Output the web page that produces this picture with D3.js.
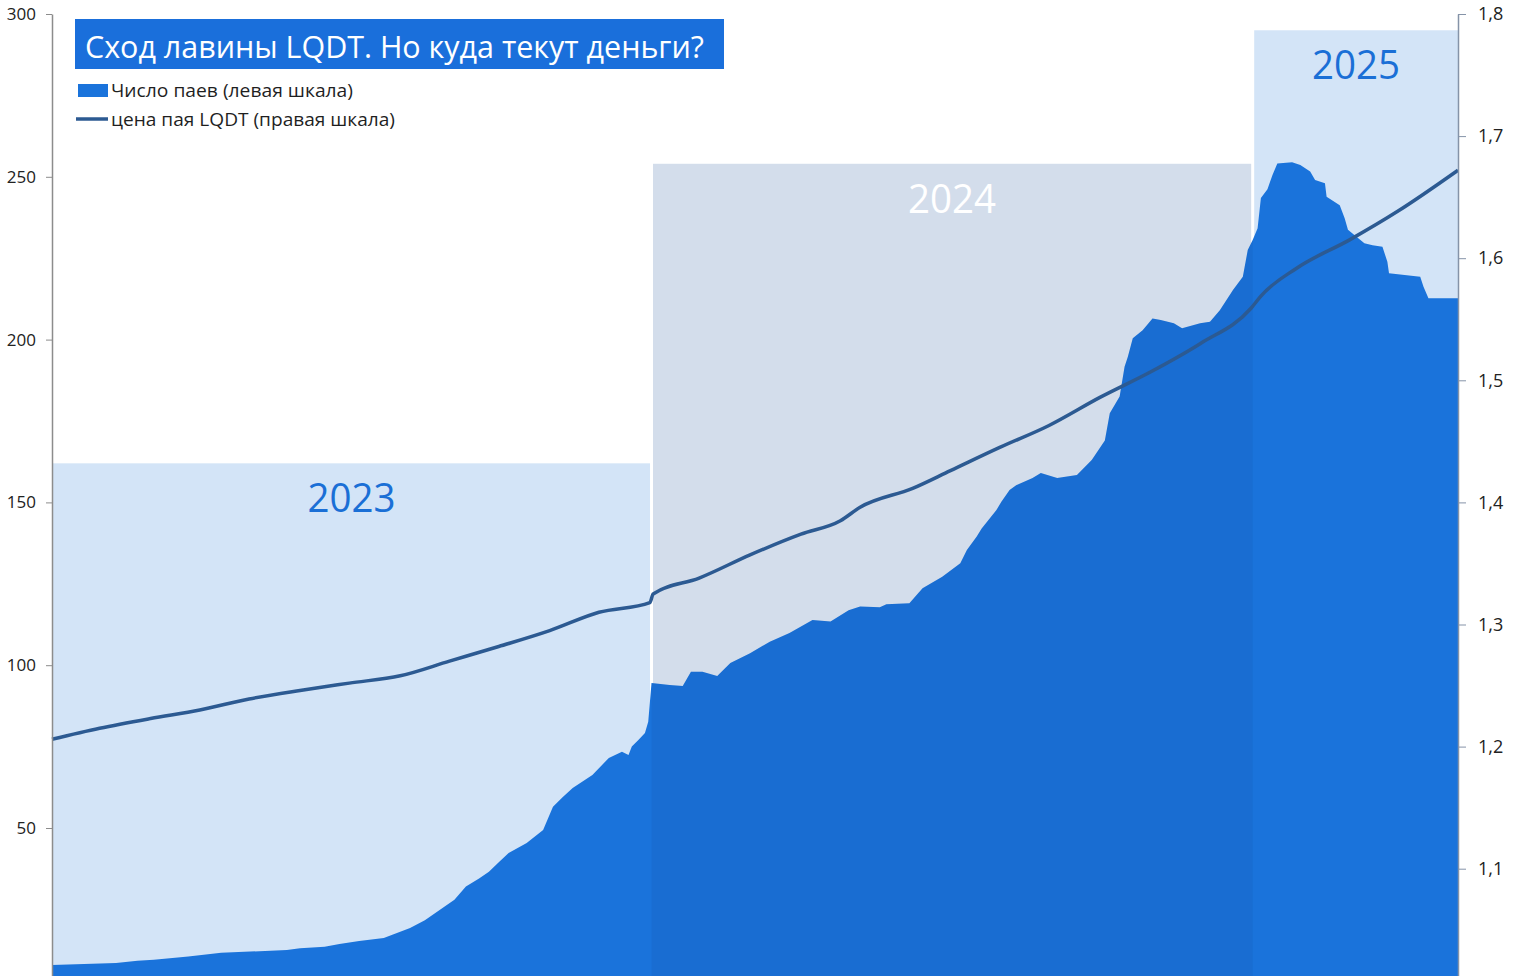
<!DOCTYPE html>
<head>
  <meta charset="utf-8">
  <script src="https://d3js.org/d3.v7.min.js"></script>
  <style>
    body {
      margin: 0;
      background: #fff;
    }
    svg {
      display: block;
      font-family: "Open Sans", sans-serif;
    }
    .axis path,
    .axis line {
      fill: none;
    }
  </style>
</head>

<body>
<script>

// year columns in the background (left scale)
var years = ["2023", "2024", "2025"];
var yearStarts = ["2023-01-01", "2024-01-01", "2025-01-01"];
var yearBandTops = [162, 254, 295];
var endDate = "2025-05-06";

// number of units, left scale
var unitDates = [
  "2023-01-01","2023-02-09","2023-02-22","2023-03-04","2023-03-25","2023-04-14","2023-05-24","2023-06-01",
  "2023-06-16","2023-06-25","2023-07-07","2023-07-22","2023-07-28","2023-08-07","2023-08-16","2023-08-25",
  "2023-09-03","2023-09-10","2023-09-18","2023-09-24","2023-09-30","2023-10-06","2023-10-17","2023-10-27",
  "2023-11-02","2023-11-08","2023-11-14","2023-11-26","2023-12-06","2023-12-14","2023-12-18","2023-12-20",
  "2023-12-24","2023-12-28","2023-12-30",
  "2024-01-01","2024-01-12","2024-01-20","2024-01-25","2024-02-01","2024-02-10","2024-02-18","2024-03-01",
  "2024-03-13","2024-03-25","2024-04-08","2024-04-19","2024-04-30","2024-05-07","2024-05-19","2024-05-23",
  "2024-06-06","2024-06-14","2024-06-26","2024-07-07","2024-07-11","2024-07-17","2024-07-20","2024-07-29",
  "2024-08-01","2024-08-06","2024-08-10","2024-08-20","2024-08-25","2024-09-04","2024-09-16","2024-09-25",
  "2024-10-03","2024-10-06","2024-10-12","2024-10-15","2024-10-17","2024-10-20","2024-10-26","2024-11-01",
  "2024-11-06","2024-11-14","2024-11-19","2024-11-30","2024-12-06","2024-12-12","2024-12-20","2024-12-26",
  "2024-12-29",
  "2025-01-01","2025-01-04","2025-01-06","2025-01-10","2025-01-13","2025-01-16","2025-01-25","2025-01-30",
  "2025-02-05","2025-02-08","2025-02-14","2025-02-15","2025-02-23","2025-02-26","2025-02-28","2025-03-10",
  "2025-03-15","2025-03-21","2025-03-24","2025-03-25","2025-04-13","2025-04-15","2025-04-18","2025-05-06"
];
var unitValues = [
  7.9, 8.5, 9.2, 9.5, 10.5, 11.7, 12.5, 13.1,
  13.5, 14.4, 15.3, 16.2, 17.4, 19.3, 21.7, 24.8,
  28, 32, 34.5, 36.6, 39.5, 42.3, 45.4, 49.4,
  56.5, 59.5, 62.3, 66.3, 71.5, 73.4, 72.4, 75,
  77, 79.2, 82.6,
  94.5, 93.9, 93.6, 98, 98, 96.7, 100.7, 103.7,
  107.2, 109.9, 113.9, 113.4, 116.9, 118, 117.8, 118.7,
  119, 123.6, 127.2, 131.3, 135.4, 139.5, 142, 147.7,
  150.2, 153.8, 155.3, 157.5, 159, 157.5, 158.4, 163,
  169, 177.4, 182.5, 191.7, 194.7, 200.4, 202.9, 206.5,
  206, 205, 203.5, 205, 205.5, 209, 215.2, 219.3,
  227.5,
  230.6, 234.2, 243.5, 246.2, 250.5, 254.1, 254.5, 253.6,
  251.6, 249, 248, 243.9, 241.3, 237.3, 233.7, 229.6,
  229, 228.5, 223.9, 220.4, 219.3, 216.2, 212.7, 212.7
];

// LQDT unit price, right scale
var priceDates = [
  "2023-01-01","2023-01-30","2023-03-02","2023-04-01","2023-05-01","2023-06-01","2023-07-01","2023-08-01",
  "2023-08-31","2023-09-30","2023-10-31","2023-11-30","2023-12-31","2024-01-02","2024-01-30","2024-03-01",
  "2024-04-01","2024-04-25","2024-05-07","2024-06-08","2024-07-01","2024-07-31","2024-08-30","2024-09-30",
  "2024-10-31","2024-11-30","2024-12-31","2025-01-06","2025-01-28","2025-03-01","2025-03-31","2025-05-06"
];
var priceValues = [
  1.206, 1.215, 1.223, 1.230, 1.239, 1.246, 1.252, 1.258,
  1.270, 1.282, 1.295, 1.310, 1.318, 1.325, 1.338, 1.357,
  1.374, 1.385, 1.396, 1.4115, 1.426, 1.445, 1.463, 1.486,
  1.507, 1.530, 1.559, 1.569, 1.592, 1.615, 1.639, 1.672
];

var leftTicks = [50, 100, 150, 200, 250, 300];
var rightTicks = [1.1, 1.2, 1.3, 1.4, 1.5, 1.6, 1.7, 1.8];

var titleText = "Сход лавины LQDT. Но куда текут деньги?";
var legendLabels = ["Число паев (левая шкала)", "цена пая LQDT (правая шкала)"];

var width = 1518, height = 976;
var plotLeft = 52, plotRight = 1458, plotTop = 14, plotBottom = 990.8;

var parse = d3.timeParse("%Y-%m-%d");

var x = d3.scaleTime()
    .domain([parse(yearStarts[0]), parse(endDate)])
    .range([plotLeft, plotRight]);

var yLeft = d3.scaleLinear()
    .domain([0, 300])
    .range([plotBottom, plotTop]);

var yRight = d3.scaleLinear()
    .domain([1.0, 1.8])
    .range([plotBottom, plotTop]);

var svg = d3.select("body").append("svg")
    .attr("width", width)
    .attr("height", height);

// year bands
var bandColors = ["#d3e4f7", "#d3ddeb", "#d3e4f7"];
var labelColors = ["#1a6fd6", "#ffffff", "#1a6fd6"];

var bands = years.map(function(yr, i) {
  var x0 = x(parse(yearStarts[i])) + (i === 0 ? 1 : 1.5);
  var x1 = i < years.length - 1 ? x(parse(yearStarts[i + 1])) - 1.5 : plotRight;
  return {year: yr, x0: x0, x1: x1, top: yearBandTops[i], i: i};
});

svg.selectAll(".band")
    .data(bands)
  .enter().append("rect")
    .attr("class", "band")
    .attr("x", function(d) { return d.x0; })
    .attr("width", function(d) { return d.x1 - d.x0; })
    .attr("y", function(d) { return yLeft(d.top); })
    .attr("height", function(d) { return yLeft(0) - yLeft(d.top); })
    .style("fill", function(d) { return bandColors[d.i]; });

svg.selectAll(".yearLabel")
    .data(bands)
  .enter().append("text")
    .attr("class", "yearLabel")
    .attr("x", function(d) { return (d.x0 + d.x1) / 2; })
    .attr("y", function(d) { return yLeft(d.top) + 49; })
    .attr("text-anchor", "middle")
    .attr("textLength", 88)
    .attr("lengthAdjust", "spacingAndGlyphs")
    .style("font-size", "40px")
    .style("fill", function(d) { return labelColors[d.i]; })
    .text(function(d) { return d.year; });

// units area
var units = unitDates.map(function(d, i) { return {date: parse(d), v: unitValues[i]}; });

var area = d3.area()
    .x(function(d) { return x(d.date); })
    .y0(yLeft(0))
    .y1(function(d) { return yLeft(d.v); });

svg.append("clipPath")
    .attr("id", "areaClip")
  .append("path")
    .attr("d", area(units));

svg.append("path")
    .attr("d", area(units))
    .style("fill", "#1a73db");

// slightly darker fill where 2024 column overlaps
svg.append("rect")
    .attr("clip-path", "url(#areaClip)")
    .attr("x", x(parse(yearStarts[1])))
    .attr("width", x(parse(yearStarts[2])) - x(parse(yearStarts[1])))
    .attr("y", plotTop)
    .attr("height", plotBottom - plotTop)
    .style("fill", "#0a2f66")
    .style("opacity", 0.07);

// price line
var prices = priceDates.map(function(d, i) { return {date: parse(d), v: priceValues[i]}; });

var line = d3.line()
    .curve(d3.curveMonotoneX)
    .x(function(d) { return x(d.date); })
    .y(function(d) { return yRight(d.v); });

svg.append("path")
    .attr("d", line(prices))
    .style("fill", "none")
    .style("stroke", "#2c5a92")
    .style("stroke-width", 3.5)
    .style("stroke-linejoin", "round");

// axes
var fmt = d3.format(".1f");

var leftAxis = svg.append("g")
    .attr("class", "axis")
    .attr("transform", "translate(" + plotLeft + ",0)")
    .call(d3.axisLeft(yLeft).tickValues(leftTicks).tickSize(6).tickPadding(10).tickSizeOuter(0));

leftAxis.select(".domain").style("stroke", "#8c8c8c").style("stroke-width", 1.5);
leftAxis.selectAll(".tick line").style("stroke", "#8c8c8c");
leftAxis.selectAll(".tick text")
    .style("font-size", "17px")
    .style("fill", "#222")
    .attr("font-family", "\"Open Sans\", sans-serif");

var rightAxis = svg.append("g")
    .attr("class", "axis")
    .attr("transform", "translate(" + plotRight + ",0)")
    .call(d3.axisRight(yRight).tickValues(rightTicks).tickSize(8).tickPadding(12).tickSizeOuter(0)
      .tickFormat(function(d) { return fmt(d).replace(".", ","); }));

rightAxis.select(".domain").style("stroke", "#8593a8").style("stroke-width", 1.5);
rightAxis.selectAll(".tick line").style("stroke", "#8593a8");
rightAxis.selectAll(".tick text")
    .style("font-size", "18px")
    .style("fill", "#222")
    .attr("font-family", "\"Open Sans\", sans-serif");

// title box
svg.append("rect")
    .attr("x", 75)
    .attr("y", 19)
    .attr("width", 649)
    .attr("height", 50)
    .style("fill", "#1a6fdb");

svg.append("text")
    .attr("x", 85)
    .attr("y", 58)
    .attr("textLength", 619)
    .attr("lengthAdjust", "spacingAndGlyphs")
    .style("font-size", "31px")
    .style("fill", "#fff")
    .text(titleText);

// legend
svg.append("rect")
    .attr("x", 78)
    .attr("y", 84)
    .attr("width", 30)
    .attr("height", 13)
    .style("fill", "#1a73db");

svg.append("line")
    .attr("x1", 76)
    .attr("x2", 108)
    .attr("y1", 119)
    .attr("y2", 119)
    .style("stroke", "#2c5a92")
    .style("stroke-width", 3.5);

svg.selectAll(".legendText")
    .data(legendLabels)
  .enter().append("text")
    .attr("class", "legendText")
    .attr("x", 111)
    .attr("y", function(d, i) { return 97 + i * 29; })
    .attr("textLength", function(d, i) { return i === 0 ? 242 : 284; })
    .attr("lengthAdjust", "spacingAndGlyphs")
    .style("font-size", "18px")
    .style("fill", "#1f1f1f")
    .text(function(d) { return d; });

</script>
</body>
